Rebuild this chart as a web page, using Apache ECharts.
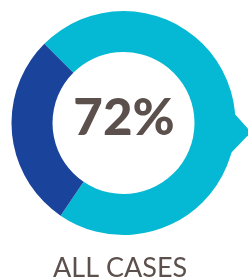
<!DOCTYPE html>
<html><head><meta charset="utf-8">
<script src="https://cdn.jsdelivr.net/npm/echarts@6/dist/echarts.min.js"></script>
<style>html,body{margin:0;padding:0;background:#fff}#c{width:248px;height:279px}</style>
</head><body><div id="c"></div>
<script>
const categories = ['All cases', 'Other'];
const values = [72, 28];
const centerLabel = '72%';
const caption = 'ALL CASES';
const colors = ['#05B8D3', '#1A449C'];

const chart = echarts.init(document.getElementById('c'), null, {renderer: 'canvas'});
chart.setOption({
  animation: false,
  graphic: [
    {type: 'polygon', shape: {points: [[233, 112], [251, 132], [231, 153]]}, style: {fill: colors[0]}, z: 0},
    {type: 'text', left: 53, top: 255, style: {text: caption, font: '400 27px Lato', fill: '#5C504C'}},
    {type: 'text', left: 'center', top: 93, style: {text: centerLabel, font: '900 51px Lato', fill: '#5C504C'}, z: 10}
  ],
  series: [{
    type: 'pie',
    center: [123.5, 123],
    radius: [71, 112],
    startAngle: 135,
    clockwise: true,
    silent: true,
    label: {show: false},
    labelLine: {show: false},
    emphasis: {disabled: true},
    data: categories.map((c, i) => ({name: c, value: values[i], itemStyle: {color: colors[i]}}))
  }]
});
</script></body></html>
